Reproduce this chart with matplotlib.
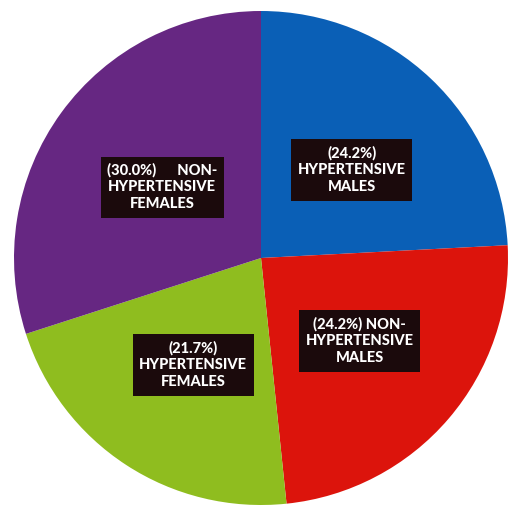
import matplotlib
matplotlib.use('Agg')
import matplotlib.pyplot as plt

# slice data (clockwise from 12 o'clock)
groups = ['HYPERTENSIVE\nMALES', 'NON-\nHYPERTENSIVE\nMALES',
          'HYPERTENSIVE\nFEMALES', 'NON-\nHYPERTENSIVE\nFEMALES']
shares = [24.2, 24.2, 21.7, 30.0]
colors = ['#0a5fb6', '#dc140c', '#8fbd1f', '#662782']

label_texts = ['(24.2%)\nHYPERTENSIVE\nMALES',
               '(24.2%) NON-\nHYPERTENSIVE\nMALES',
               '(21.7%)\nHYPERTENSIVE\nFEMALES',
               '(30.0%)      NON-\nHYPERTENSIVE\nFEMALES']
label_pos = [(0.368, 0.356), (0.40, -0.336), (-0.275, -0.433), (-0.40, 0.287)]

fig = plt.figure(figsize=(5.09, 5.07), dpi=100)
ax = fig.add_axes([14 / 509, 2 / 507, 494 / 509, 494 / 507])
ax.pie(shares, colors=colors, startangle=90, counterclock=False, radius=1,
       wedgeprops=dict(linewidth=0))

for txt, (x, y) in zip(label_texts, label_pos):
    ax.text(x, y, txt, ha='center', va='center', color='white',
            fontsize=10.5, fontweight='black', family=['Lato', 'DejaVu Sans'],
            linespacing=1.25,
            bbox=dict(boxstyle='square,pad=0.45', fc='#1b0a0c', ec='none'))

ax.set_xlim(-1, 1)
ax.set_ylim(-1, 1)
ax.set_aspect('equal')
ax.axis('off')
fig.savefig('out.png', dpi=100)
